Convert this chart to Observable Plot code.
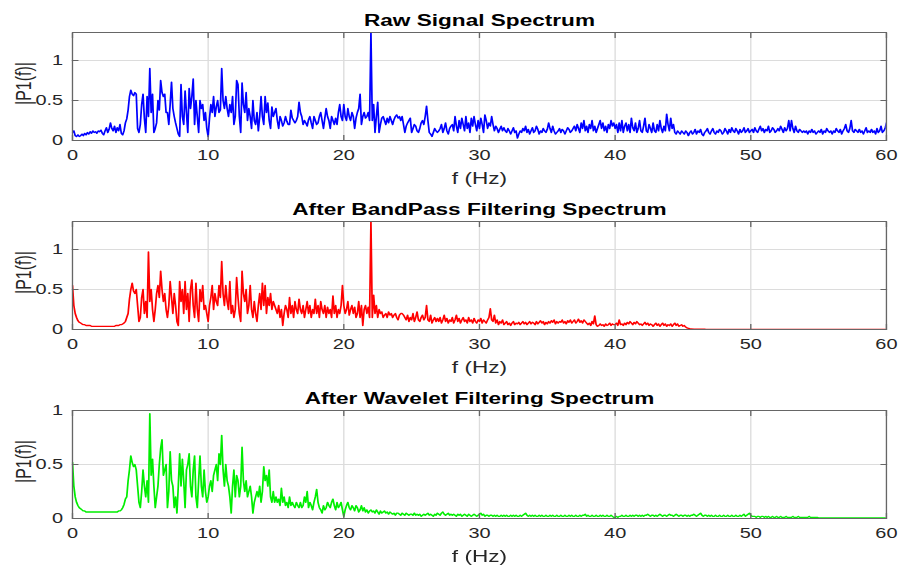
<!DOCTYPE html>
<html>
<head>
<meta charset="utf-8">
<script src="https://cdn.jsdelivr.net/npm/d3@7"></script>
<script src="https://cdn.jsdelivr.net/npm/@observablehq/plot@0.6"></script>
<style>
  body { margin: 0; background: #fff; overflow: hidden; }
  #wrap { width: 677px; transform: scaleX(1.33); transform-origin: 0 0; }
  #wrap svg { display: block; }
</style>
</head>
<body>
<div id="wrap"></div>
<script>
// Frequency grid of the spectra (Hz): first bin and bin spacing
const fStart = 0;
const fStep = 0.1;

const xTicks = [0, 10, 20, 30, 40, 50, 60];
const yTicksTop = [0, 0.5, 1];
const yTicksBottom = [0, 0.5, 1];

const titles = ["Raw Signal Spectrum", "After BandPass Filtering Spectrum", "After Wavelet Filtering Spectrum"];
const xLabel = "f (Hz)";
const yLabel = "|P1(f)|";

// |P1(f)|, one row per 1 Hz (10 bins of 0.1 Hz)
const rawSpectrum = [
  .10,.12,.06,.05,.07,.05,.06,.08,.06,.09,
  .07,.10,.08,.11,.09,.12,.10,.11,.09,.12,
  .11,.13,.09,.07,.12,.16,.10,.14,.22,.15,
  .12,.18,.10,.16,.12,.20,.09,.07,.12,.22,
  .27,.38,.55,.63,.58,.56,.60,.58,.15,.10,
  .20,.45,.58,.28,.10,.55,.30,.90,.35,.58,
  .10,.15,.22,.50,.38,.75,.60,.55,.58,.35,
  .35,.20,.45,.73,.40,.30,.22,.15,.08,.05,
  .70,.30,.20,.62,.35,.10,.65,.40,.55,.77,
  .20,.50,.30,.10,.50,.40,.45,.25,.35,.15,
  .05,.28,.45,.35,.55,.30,.42,.50,.35,.38,
  .90,.50,.40,.55,.40,.30,.45,.35,.55,.20,
  .30,.75,.70,.30,.10,.72,.45,.35,.60,.25,
  .40,.30,.15,.50,.25,.20,.35,.12,.30,.55,
  .30,.20,.55,.35,.47,.25,.15,.42,.30,.35,
  .40,.25,.15,.30,.25,.18,.22,.30,.24,.20,
  .20,.38,.28,.25,.22,.25,.30,.48,.35,.30,
  .20,.25,.22,.18,.26,.30,.22,.15,.30,.25,
  .20,.22,.30,.35,.25,.15,.28,.40,.30,.25,
  .15,.30,.25,.20,.28,.20,.35,.45,.30,.25,
  .45,.30,.25,.40,.30,.25,.35,.30,.15,.28,
  .35,.40,.58,.20,.30,.35,.28,.30,.35,.25,
  1.35,.25,.45,.10,.30,.48,.10,.20,.28,.30,
  .25,.20,.28,.22,.30,.25,.20,.26,.30,.32,
  .28,.30,.25,.30,.20,.10,.18,.22,.25,.28,
  .10,.15,.20,.18,.12,.10,.15,.22,.25,.20,
  .30,.43,.25,.10,.08,.05,.10,.15,.12,.10,
  .12,.15,.20,.10,.15,.22,.12,.08,.15,.18,
  .20,.12,.30,.18,.10,.25,.15,.28,.20,.12,
  .30,.15,.22,.10,.28,.18,.30,.20,.12,.25,
  .15,.28,.20,.10,.32,.25,.15,.22,.18,.30,
  .20,.12,.18,.15,.10,.14,.18,.12,.16,.12,
  .10,.15,.12,.08,.12,.16,.10,.12,.03,.08,
  .12,.10,.15,.12,.18,.10,.14,.08,.12,.16,
  .10,.12,.18,.14,.08,.12,.10,.15,.12,.10,
  .14,.22,.15,.10,.18,.12,.08,.10,.12,.15,
  .10,.14,.12,.08,.12,.16,.14,.10,.12,.15,
  .18,.12,.20,.15,.10,.22,.15,.25,.12,.18,
  .10,.20,.15,.25,.12,.18,.10,.15,.20,.25,
  .15,.22,.12,.18,.10,.20,.15,.25,.18,.22,
  .15,.20,.10,.22,.12,.25,.10,.18,.22,.12,
  .20,.10,.28,.16,.12,.22,.10,.15,.25,.12,
  .10,.18,.28,.12,.10,.20,.15,.10,.22,.12,
  .10,.20,.12,.25,.15,.10,.18,.12,.33,.20,
  .12,.28,.15,.20,.10,.08,.12,.10,.08,.12,
  .10,.08,.12,.10,.06,.10,.12,.08,.10,.14,
  .08,.12,.10,.14,.08,.06,.10,.12,.15,.10,
  .08,.12,.15,.10,.08,.12,.10,.14,.12,.08,
  .10,.15,.12,.08,.14,.10,.16,.12,.10,.15,
  .12,.08,.14,.10,.12,.16,.10,.12,.15,.10,
  .12,.14,.10,.16,.12,.10,.14,.18,.12,.15,
  .10,.14,.12,.18,.10,.12,.16,.14,.10,.12,
  .15,.12,.18,.14,.10,.16,.12,.15,.25,.12,
  .25,.15,.10,.18,.12,.10,.14,.12,.10,.12,
  .10,.12,.08,.12,.10,.14,.10,.12,.08,.10,
  .12,.10,.14,.08,.12,.10,.15,.12,.10,.12,
  .08,.12,.10,.15,.12,.10,.14,.08,.12,.15,
  .20,.12,.10,.15,.25,.12,.10,.14,.12,.10,
  .14,.10,.12,.08,.12,.16,.10,.12,.10,.14,
  .10,.12,.08,.15,.10,.12,.18,.10,.12,.15,
  .22
];

const bandpassSpectrum = [
  .55,.30,.20,.15,.11,.09,.08,.07,.06,.06,
  .05,.05,.05,.05,.04,.04,.04,.04,.04,.04,
  .04,.04,.04,.04,.04,.04,.04,.04,.04,.04,
  .04,.04,.05,.05,.05,.06,.06,.07,.08,.10,
  .15,.20,.38,.50,.58,.48,.45,.50,.30,.10,
  .15,.40,.50,.20,.35,.15,.97,.35,.50,.25,
  .10,.25,.45,.55,.40,.73,.50,.35,.45,.25,
  .15,.30,.60,.40,.20,.45,.30,.10,.05,.60,
  .35,.50,.20,.60,.25,.45,.10,.50,.62,.30,
  .15,.58,.25,.10,.50,.35,.55,.25,.30,.20,
  .10,.30,.40,.55,.25,.45,.35,.30,.55,.40,
  .85,.45,.30,.55,.35,.25,.60,.20,.30,.15,
  .25,.65,.40,.20,.10,.73,.45,.35,.50,.20,
  .30,.55,.25,.15,.35,.20,.10,.30,.45,.25,
  .58,.30,.55,.20,.40,.30,.45,.25,.35,.30,
  .25,.20,.30,.15,.25,.05,.20,.30,.25,.15,
  .40,.20,.30,.15,.35,.25,.20,.38,.25,.20,
  .30,.15,.25,.35,.20,.30,.15,.25,.20,.38,
  .20,.30,.15,.35,.25,.20,.30,.15,.28,.20,
  .25,.15,.42,.20,.30,.15,.25,.20,.30,.55,
  .30,.20,.25,.35,.18,.25,.30,.20,.28,.15,
  .20,.35,.15,.30,.05,.25,.30,.20,.28,.15,
  1.35,.15,.43,.20,.30,.15,.25,.20,.22,.15,
  .18,.20,.15,.22,.18,.20,.15,.18,.20,.15,
  .12,.18,.20,.20,.18,.15,.12,.18,.10,.15,
  .12,.20,.10,.15,.22,.12,.10,.15,.18,.12,
  .15,.30,.12,.10,.18,.08,.12,.15,.10,.14,
  .10,.15,.08,.12,.18,.10,.14,.08,.12,.10,
  .15,.08,.12,.18,.10,.14,.08,.12,.15,.10,
  .12,.08,.15,.10,.12,.08,.14,.10,.08,.12,
  .10,.14,.08,.12,.10,.08,.12,.15,.26,.12,
  .10,.18,.08,.12,.06,.10,.08,.12,.06,.08,
  .10,.06,.08,.05,.08,.10,.06,.08,.07,.09,
  .06,.08,.10,.07,.09,.06,.08,.10,.07,.09,
  .08,.06,.10,.07,.09,.11,.08,.10,.06,.09,
  .07,.10,.08,.11,.09,.12,.07,.10,.08,.10,
  .09,.12,.08,.10,.07,.11,.09,.12,.08,.10,
  .12,.08,.10,.13,.09,.11,.08,.12,.10,.08,
  .06,.08,.05,.10,.07,.17,.06,.04,.05,.07,
  .05,.06,.04,.07,.05,.06,.08,.05,.07,.06,
  .06,.08,.05,.12,.06,.07,.05,.08,.06,.09,
  .07,.10,.08,.06,.09,.07,.10,.08,.06,.07,
  .05,.07,.09,.06,.08,.05,.07,.06,.04,.06,
  .08,.05,.07,.04,.06,.08,.05,.07,.04,.06,
  .05,.07,.04,.06,.08,.05,.07,.04,.05,.06,
  .04,.05,.03,.02,.015,.01,.008,.006,.005,.004,
  .004,.004,.003,.003,.003,.003,.003,.002,.002,.002,
  .002,.002,.002,.002,.002,.002,.002,.002,.002,.002,
  .002,.002,.002,.002,.002,.002,.002,.002,.002,.002,
  .002,.002,.002,.002,.002,.002,.002,.002,.002,.002,
  .002,.002,.002,.002,.002,.002,.002,.002,.002,.002,
  .002,.002,.002,.002,.002,.002,.002,.002,.002,.002,
  .002,.002,.002,.002,.002,.002,.002,.002,.002,.002,
  .002,.002,.002,.002,.002,.002,.002,.002,.002,.002,
  .002,.002,.002,.002,.002,.002,.002,.002,.002,.002,
  .002,.002,.002,.002,.002,.002,.002,.002,.002,.002,
  .002,.002,.002,.002,.002,.002,.002,.002,.002,.002,
  .002,.002,.002,.002,.002,.002,.002,.002,.002,.002,
  .002,.002,.002,.002,.002,.002,.002,.002,.002,.002,
  .002,.002,.002,.002,.002,.002,.002,.002,.002,.002,
  .002
];

const waveletSpectrum = [
  .52,.30,.20,.15,.12,.10,.09,.08,.07,.07,
  .06,.06,.06,.06,.06,.06,.06,.06,.06,.06,
  .06,.06,.06,.06,.06,.06,.06,.06,.06,.06,
  .06,.06,.06,.06,.07,.07,.08,.10,.13,.18,
  .20,.35,.45,.58,.52,.48,.50,.45,.30,.15,
  .10,.25,.45,.30,.20,.35,.15,.97,.40,.55,
  .30,.10,.20,.30,.50,.65,.73,.40,.45,.50,
  .10,.25,.62,.35,.30,.10,.20,.05,.30,.60,
  .30,.55,.35,.10,.45,.50,.60,.30,.20,.45,
  .58,.20,.10,.35,.58,.30,.20,.45,.25,.15,
  .20,.30,.35,.25,.40,.45,.50,.35,.60,.50,
  .77,.45,.30,.50,.35,.30,.20,.05,.30,.45,
  .20,.40,.35,.20,.30,.66,.35,.25,.35,.20,
  .25,.30,.20,.05,.15,.20,.25,.20,.30,.15,
  .25,.48,.35,.40,.30,.45,.20,.15,.25,.15,
  .20,.15,.18,.12,.28,.15,.20,.12,.15,.10,
  .20,.12,.15,.12,.10,.15,.12,.10,.15,.10,
  .12,.20,.15,.25,.10,.15,.12,.08,.15,.20,
  .27,.15,.10,.08,.05,.12,.08,.10,.15,.12,
  .10,.15,.18,.12,.08,.15,.10,.12,.15,.08,
  .02,.08,.12,.15,.10,.08,.12,.10,.07,.12,
  .10,.06,.08,.12,.07,.10,.06,.08,.05,.07,
  .08,.06,.07,.05,.08,.06,.04,.07,.05,.06,
  .07,.05,.06,.04,.06,.05,.04,.05,.03,.05,
  .05,.04,.03,.05,.04,.03,.05,.04,.03,.04,
  .04,.03,.05,.03,.04,.03,.04,.02,.03,.04,
  .03,.04,.05,.03,.04,.03,.02,.04,.03,.05,
  .04,.03,.05,.06,.04,.03,.04,.05,.03,.04,
  .03,.04,.03,.02,.04,.03,.04,.02,.03,.04,
  .03,.02,.04,.03,.02,.03,.04,.03,.02,.03,
  .04,.05,.03,.04,.02,.03,.03,.02,.03,.03,
  .02,.03,.02,.03,.02,.02,.03,.02,.03,.02,
  .03,.02,.02,.03,.02,.03,.02,.03,.02,.02,
  .03,.02,.03,.04,.05,.03,.02,.03,.02,.03,
  .02,.03,.02,.02,.03,.02,.03,.02,.02,.03,
  .02,.02,.03,.02,.03,.02,.02,.03,.02,.02,
  .03,.02,.02,.03,.02,.02,.03,.02,.03,.02,
  .02,.03,.02,.02,.03,.02,.03,.03,.04,.02,
  .03,.02,.02,.03,.02,.02,.03,.02,.02,.03,
  .02,.03,.02,.02,.03,.02,.02,.03,.02,.01,
  .01,.02,.01,.02,.02,.03,.02,.02,.03,.02,
  .02,.03,.02,.03,.02,.03,.03,.02,.03,.02,
  .03,.02,.03,.03,.04,.03,.02,.03,.03,.02,
  .03,.02,.03,.04,.03,.02,.03,.03,.02,.03,
  .04,.03,.03,.02,.03,.04,.03,.02,.03,.03,
  .02,.03,.03,.02,.03,.02,.03,.03,.04,.03,
  .02,.03,.04,.05,.03,.02,.03,.03,.02,.03,
  .02,.03,.02,.02,.03,.02,.02,.03,.02,.02,
  .03,.02,.02,.03,.02,.02,.03,.02,.02,.03,
  .02,.02,.03,.02,.03,.04,.02,.03,.04,.05,
  .03,.02,.02,.02,.01,.02,.02,.01,.02,.02,
  .01,.02,.01,.02,.01,.01,.02,.01,.01,.02,
  .01,.01,.02,.01,.01,.01,.02,.01,.01,.01,
  .01,.02,.01,.01,.01,.02,.01,.01,.01,.01,
  .01,.01,.01,.02,.01,.01,.01,.01,.01,.01,
  .005,.005,.005,.005,.005,.005,.005,.005,.005,.005,
  .005,.005,.005,.005,.005,.005,.005,.005,.005,.005,
  .005,.005,.005,.005,.005,.005,.005,.005,.005,.005,
  .005,.005,.005,.005,.005,.005,.005,.005,.005,.005,
  .005,.005,.005,.005,.005,.005,.005,.005,.005,.005,
  .005
];

const seriesColors = ["#0000ff", "#ff0000", "#00ee00"];

function panel(title, values, color, yDomain, yTicks, height, marginBottom) {
  const data = values.map((v, i) => ({f: fStart + i * fStep, p: v}));
  const fmt = d => String(d);
  return Plot.plot({
    width: 677,
    height,
    marginTop: 32,
    marginBottom,
    marginLeft: 54,
    marginRight: 11,
    style: {fontFamily: "'Liberation Sans', Arial, Helvetica, sans-serif", fontSize: "15px", color: "#262626", background: "white", overflow: "visible"},
    x: {domain: [0, 60]},
    y: {domain: yDomain},
    marks: [
      Plot.gridX(xTicks.slice(1, -1), {stroke: "#dcdcdc", strokeOpacity: 1}),
      Plot.gridY(yTicks.filter(t => t > 0 && t < yDomain[1]), {stroke: "#dcdcdc", strokeOpacity: 1}),
      Plot.line(data, {x: "f", y: "p", stroke: color, strokeWidth: 1.3, clip: true}),
      Plot.frame({stroke: "#666666"}),
      Plot.axisX(xTicks, {anchor: "bottom", tickSize: 0, tickPadding: 9, label: null, tickFormat: fmt, fill: "#262626", fontSize: 15}),
      Plot.axisX(xTicks, {anchor: "bottom", tickSize: -5, fill: "none", label: null, stroke: "#666666"}),
      Plot.axisX(xTicks, {anchor: "top", tickSize: -5, fill: "none", label: null, stroke: "#666666"}),
      Plot.axisY(yTicks, {anchor: "left", tickSize: 0, tickPadding: 7, label: null, tickFormat: fmt, fill: "#262626", fontSize: 15}),
      Plot.axisY(yTicks, {anchor: "left", tickSize: -5, fill: "none", label: null, stroke: "#666666"}),
      Plot.axisY(yTicks, {anchor: "right", tickSize: -5, fill: "none", label: null, stroke: "#666666"}),
      Plot.text([title], {frameAnchor: "top", lineAnchor: "middle", dy: -12, fontWeight: "bold", fontSize: 17, fill: "#000"}),
      Plot.text([xLabel], {frameAnchor: "bottom", lineAnchor: "middle", dy: 38, fontSize: 17, fill: "#262626"}),
      Plot.text([yLabel], {frameAnchor: "left", textAnchor: "middle", lineAnchor: "middle", dx: -36, dy: -3, rotate: -90, fontSize: 16, fill: "#262626"})
    ]
  });
}

const wrap = document.getElementById("wrap");
wrap.append(panel(titles[0], rawSpectrum, seriesColors[0], [0, 1.35], yTicksTop, 189, 49));
wrap.append(panel(titles[1], bandpassSpectrum, seriesColors[1], [0, 1.35], yTicksTop, 189, 49));
wrap.append(panel(titles[2], waveletSpectrum, seriesColors[2], [0, 1], yTicksBottom, 187, 47));
</script>
</body>
</html>
